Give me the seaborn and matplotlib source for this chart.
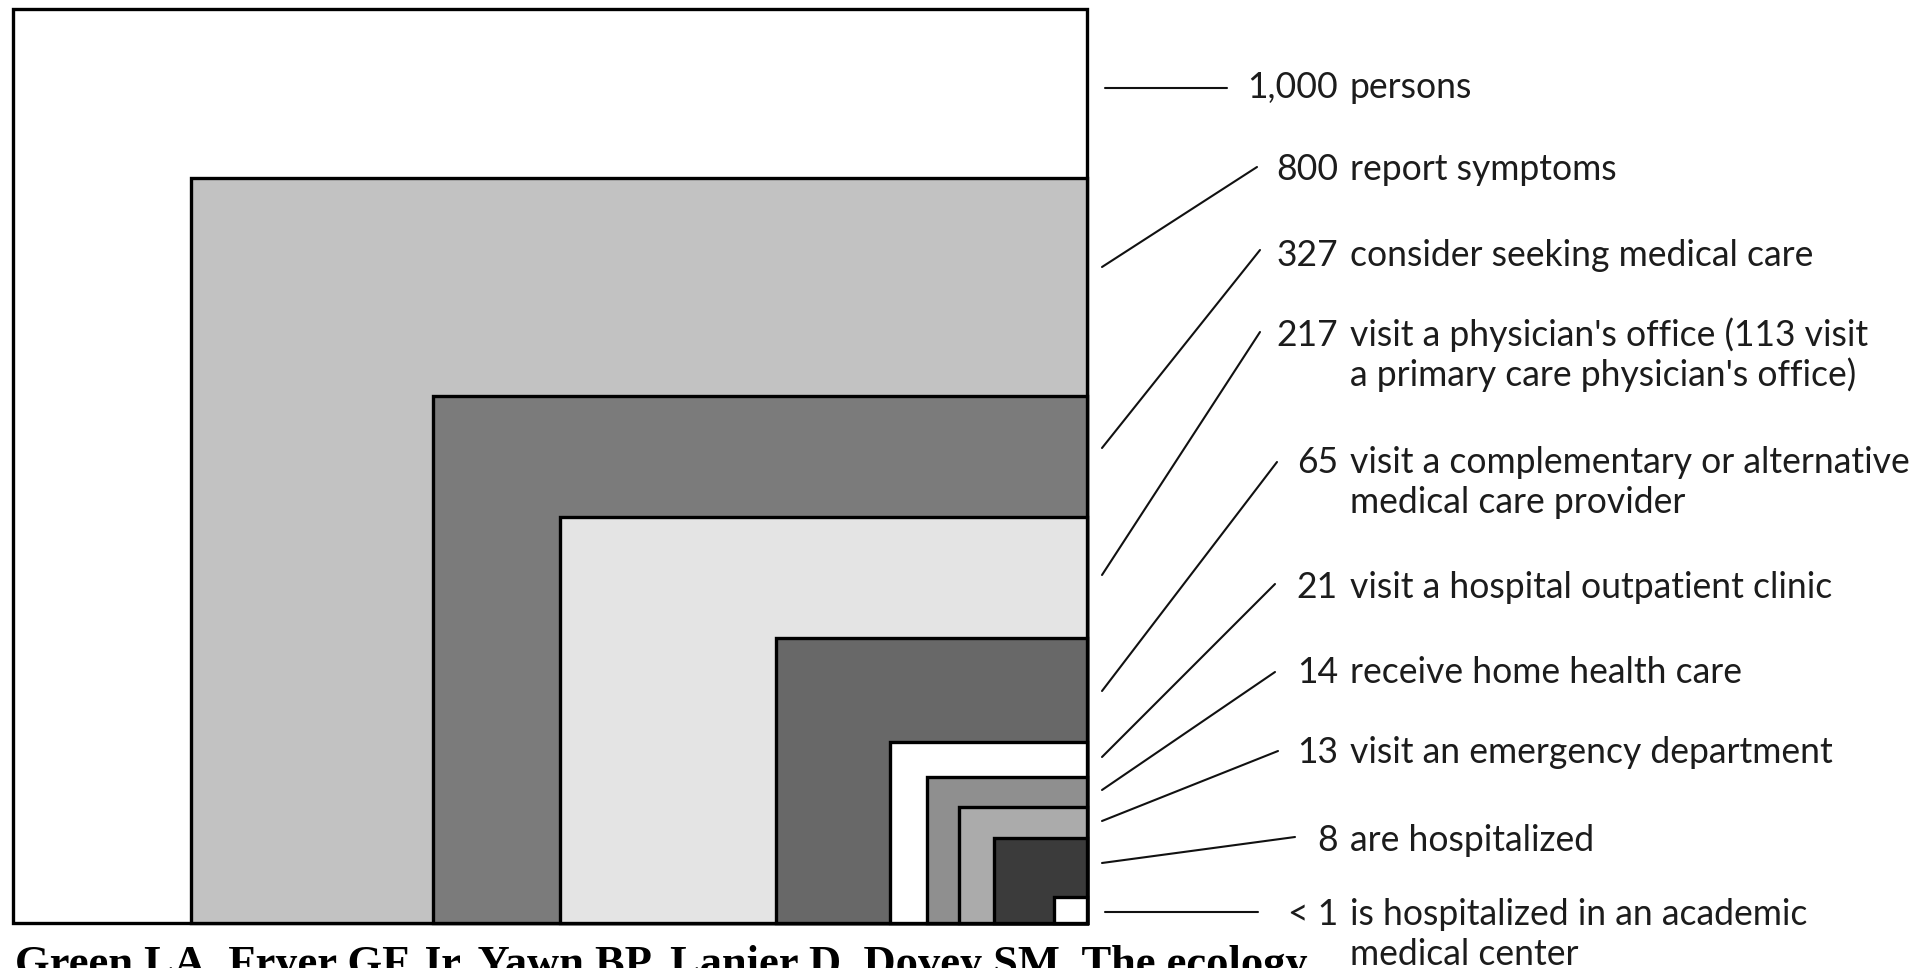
import matplotlib
matplotlib.use("Agg")
import matplotlib.pyplot as plt
import seaborn as sns
from matplotlib.lines import Line2D

# ecology of medical care: what happens to 1,000 persons in a month
counts = ["1,000", "800", "327", "217", "65", "21", "14", "13", "8", "< 1"]
descriptions = [
    "persons",
    "report symptoms",
    "consider seeking medical care",
    "visit a physician's office (113 visit\na primary care physician's office)",
    "visit a complementary or alternative\nmedical care provider",
    "visit a hospital outpatient clinic",
    "receive home health care",
    "visit an emergency department",
    "are hospitalized",
    "is hospitalized in an academic\nmedical center",
]
# nested boxes (outer box = 1000 x 1000)
box_width = [1000, 834, 609, 491, 290, 183, 149, 119, 87, 31]
box_height = [1000, 815, 577, 444, 312, 198, 160, 127, 93, 28]
box_colors = ["#ffffff", "#c2c2c2", "#7b7b7b", "#e4e4e4", "#686868",
              "#ffffff", "#8f8f8f", "#ababab", "#3b3b3b", "#ffffff"]

citation = "Green LA, Fryer GF Jr, Yawn BP, Lanier D, Dovey SM. The ecology"

# layout, in pixels from the top-left of the picture
W, H = 1921, 968
leader_start = [(1105, 88), (1102, 267), (1102, 448), (1102, 575), (1102, 691),
                (1102, 757), (1102, 790), (1102, 821), (1102, 863), (1105, 912)]
leader_end = [(1227, 88), (1257, 167), (1260, 250), (1260, 332), (1277, 462),
              (1275, 584), (1275, 672), (1278, 751), (1295, 837), (1258, 912)]
label_y = [85, 167, 253, 333, 460, 585, 670, 750, 838, 912]

sns.set_theme(style="white")
plt.rcParams["font.family"] = ["Lato", "DejaVu Sans"]

fig = plt.figure(figsize=(W / 100, H / 100), dpi=100)
ax = fig.add_axes([13 / W, 1 - 923 / H, 1074 / W, 914 / H])

for w, h, c in zip(box_width, box_height, box_colors):
    ax.bar(1000 - w, h, width=w, align="edge", color=c,
           edgecolor="black", linewidth=2.4, clip_on=False)
ax.set_xlim(0, 1000)
ax.set_ylim(0, 1000)
ax.set_axis_off()


def fx(x):
    return x / W


def fy(y):
    return 1 - y / H


for (x0, y0), (x1, y1) in zip(leader_start, leader_end):
    fig.add_artist(Line2D([fx(x0), fx(x1)], [fy(y0), fy(y1)],
                          transform=fig.transFigure, color="#111111", lw=1.5))

txt = dict(fontsize=25.6, color="#1c1c1c", va="baseline", transform=fig.transFigure)
for n, d, y in zip(counts, descriptions, label_y):
    fig.text(fx(1338), fy(y + 13), n, ha="right", **txt)
    for i, line in enumerate(d.split("\n")):
        fig.text(fx(1350), fy(y + 13 + i * 40), line, ha="left", **txt)

fig.text(fx(15), fy(976), citation, family=["Liberation Serif", "DejaVu Serif"],
         fontweight="bold", fontsize=32, color="black", va="baseline")

fig.savefig("out.png", dpi=100)
